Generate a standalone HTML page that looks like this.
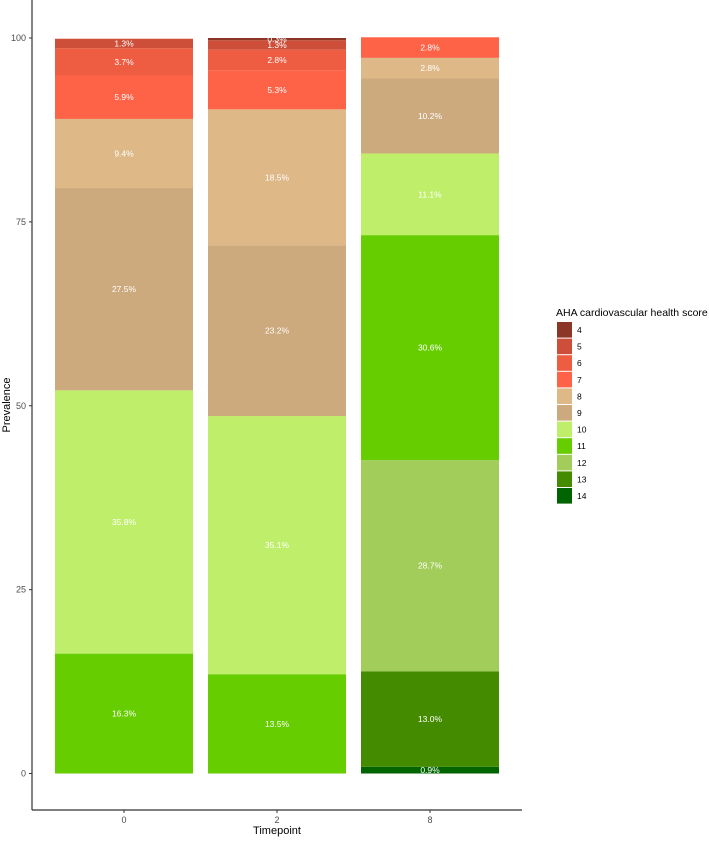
<!DOCTYPE html>
<html><head><meta charset="utf-8"><style>
body{margin:0;background:#fff;font-family:"Liberation Sans",Arial,sans-serif;}
svg text{font-family:"Liberation Sans",Arial,sans-serif;}
</style></head><body>
<svg id="chart" width="709" height="837" xmlns="http://www.w3.org/2000/svg"></svg>
<script>
const categories=["0","2","8"];
const scores=["4","5","6","7","8","9","10","11","12","13","14"];
const colors=["#8B3626","#CD4F39","#EE5C42","#FF6347","#DEB887","#CDAA7D","#BFEE6A","#66CD00","#A2CD5A","#458B00","#006400"];
const tp0=[0,1.3,3.7,5.9,9.4,27.5,35.8,16.3,0,0,0];
const tp2=[0.3,1.3,2.8,5.3,18.5,23.2,35.1,13.5,0,0,0];
const tp8=[0,0,0,2.8,2.8,10.2,11.1,30.6,28.7,13.0,0.9];
const series=[tp0,tp2,tp8];
const yTicks=[0,25,50,75,100];

const NS="http://www.w3.org/2000/svg";
const svg=document.getElementById('chart');
function el(t,a,p){const e=document.createElementNS(NS,t);for(const k in a)e.setAttribute(k,a[k]);(p||svg).appendChild(e);return e;}
const y=v=>773.5-v*7.355;
const xc=i=>124+i*153;
const bw=138;

const ax=el('line',{x1:32,y1:0,x2:32,y2:810,stroke:'#333','stroke-width':1.2});


const ax2=el('line',{x1:32,y1:810,x2:522,y2:810,stroke:'#333','stroke-width':1.2});



yTicks.forEach(t=>{
  const tk=el('line',{x1:29,x2:32,y1:y(t),y2:y(t),stroke:'#333'});
  
  
  const tx=el('text',{x:26,y:y(t)+3,'text-anchor':'end','font-size':9,fill:'#4d4d4d'});
  tx.textContent=t;
  
  
});
categories.forEach((c,i)=>{
  const tk=el('line',{x1:xc(i),x2:xc(i),y1:810,y2:813,stroke:'#333'});
  
  
  const tx=el('text',{x:xc(i),y:823,'text-anchor':'middle','font-size':9,fill:'#4d4d4d'});
  tx.textContent=c;
  
  
});
const xt=el('text',{x:277,y:834,'text-anchor':'middle','font-size':11,fill:'#000'});
xt.textContent='Timepoint';


const yt=el('text',{x:10,y:405,'text-anchor':'middle','font-size':11,fill:'#000',transform:'rotate(-90 10 405)'});
yt.textContent='Prevalence';



series.forEach((vals,i)=>{
  let cum=0;
  for(let k=scores.length-1;k>=0;k--){
    const v=vals[k]; if(!v) continue;
    const top=cum+v;
    const r=el('rect',{x:xc(i)-bw/2,y:y(top),width:bw,height:y(cum)-y(top),fill:colors[k]});
    
    
    const t=el('text',{x:xc(i),y:y(cum+v/2)+3,'text-anchor':'middle','font-size':8.5,fill:'#fff'});
    t.textContent=v.toFixed(1)+'%';
    
    
    cum=top;
  }
});

const lt=el('text',{x:556,y:316,'font-size':10.5,fill:'#000'});
lt.textContent='AHA cardiovascular health score';


scores.forEach((s,k)=>{
  const yy=322+k*16.6;
  const r=el('rect',{x:557,y:yy,width:15,height:15.6,fill:colors[k]});
  
  
  const t=el('text',{x:577,y:yy+11,'font-size':8.5,fill:'#000'});
  t.textContent=s;
  
  
});
</script>
</body></html>
